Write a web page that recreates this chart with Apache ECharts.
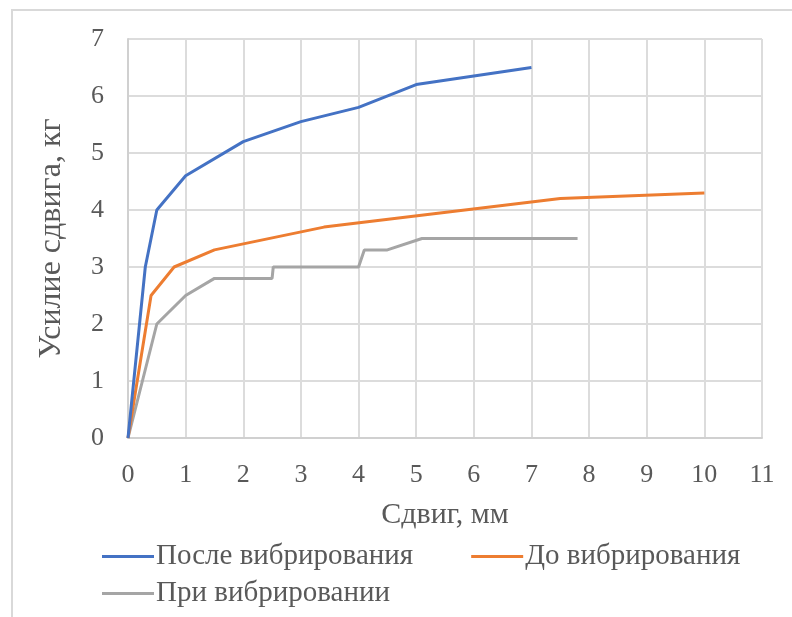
<!DOCTYPE html>
<html>
<head>
<meta charset="utf-8">
<script src="https://cdn.jsdelivr.net/npm/echarts@6/dist/echarts.min.js"></script>
<style>
  html, body { margin: 0; padding: 0; background: #fff; }
  #chart { width: 792px; height: 617px; }
</style>
</head>
<body>
<div id="chart"></div>
<script>
// Shear tests: shear displacement (mm) vs shear force (kg)
const seriesNames = ['После вибрирования', 'До вибрирования', 'При вибрировании'];

const afterX = [0, 0.3, 0.5, 1, 2, 3, 4, 5, 7];
const afterY = [0, 3.0, 4.0, 4.6, 5.2, 5.55, 5.8, 6.2, 6.5];

const beforeX = [0, 0.4, 0.8, 1.5, 3.4, 7.5, 10];
const beforeY = [0, 2.5, 3.0, 3.3, 3.7, 4.2, 4.3];

const duringX = [0, 0.5, 1, 1.5, 2.5, 2.52, 4, 4.1, 4.5, 5.1, 7.8];
const duringY = [0, 2.0, 2.5, 2.8, 2.8, 3.0, 3.0, 3.3, 3.3, 3.5, 3.5];

const xTicks = { min: 0, max: 11, step: 1 };
const yTicks = { min: 0, max: 7, step: 1 };

const colors = ['#4472C4', '#ED7D31', '#A5A5A5'];
const textColor = '#595959';
const font = '"Liberation Serif", "Times New Roman", serif';

function pairs(xs, ys) {
  return xs.map((x, i) => [x, ys[i]]);
}

const chart = echarts.init(document.getElementById('chart'), null, { renderer: 'canvas' });

const lineSeries = [
  pairs(afterX, afterY),
  pairs(beforeX, beforeY),
  pairs(duringX, duringY)
].map((data, i) => ({
  name: seriesNames[i],
  type: 'line',
  data: data,
  showSymbol: false,
  symbol: 'none',
  smooth: false,
  lineStyle: { color: colors[i], width: 3 },
  itemStyle: { color: colors[i] },
  z: 10 - i
}));

const legendCommon = {
  icon: 'rect',
  itemWidth: 52,
  itemHeight: 3,
  itemGap: 58,
  textStyle: { color: textColor, fontFamily: font, fontSize: 29, padding: [0, 0, 0, -3] },
  selectedMode: false
};

chart.setOption({
  backgroundColor: '#ffffff',
  animation: false,
  color: colors,
  graphic: [{
    type: 'rect',
    shape: { x: 12, y: 10, width: 800, height: 700 },
    style: { fill: 'none', stroke: '#d9d9d9', lineWidth: 2 },
    silent: true,
    z: -10
  }],
  grid: { left: 128, right: 30, top: 39, bottom: 179, containLabel: false },
  legend: [
    Object.assign({}, legendCommon, { data: [seriesNames[0], seriesNames[1]], left: 97, top: 537 }),
    Object.assign({}, legendCommon, { data: [seriesNames[2]], left: 97, top: 574 })
  ],
  xAxis: {
    type: 'value',
    min: xTicks.min,
    max: xTicks.max,
    interval: xTicks.step,
    name: 'Сдвиг, мм',
    nameLocation: 'middle',
    nameGap: 62,
    nameTextStyle: { color: textColor, fontFamily: font, fontSize: 30 },
    axisLine: { show: true, lineStyle: { color: '#d0d0d0', width: 2 } },
    axisTick: { show: false },
    axisLabel: { color: textColor, fontFamily: font, fontSize: 26, margin: 24 },
    splitLine: { show: true, lineStyle: { color: '#dcdcdc', width: 2 } }
  },
  yAxis: {
    type: 'value',
    min: yTicks.min,
    max: yTicks.max,
    interval: yTicks.step,
    name: 'Усилие сдвига, кг',
    nameLocation: 'middle',
    nameGap: 60,
    nameTextStyle: { color: textColor, fontFamily: font, fontSize: 32 },
    axisLine: { show: true, lineStyle: { color: '#d0d0d0', width: 2 } },
    axisTick: { show: false },
    axisLabel: { color: textColor, fontFamily: font, fontSize: 26, margin: 24 },
    splitLine: { show: true, lineStyle: { color: '#dcdcdc', width: 2 } }
  },
  series: lineSeries
});
</script>
</body>
</html>
